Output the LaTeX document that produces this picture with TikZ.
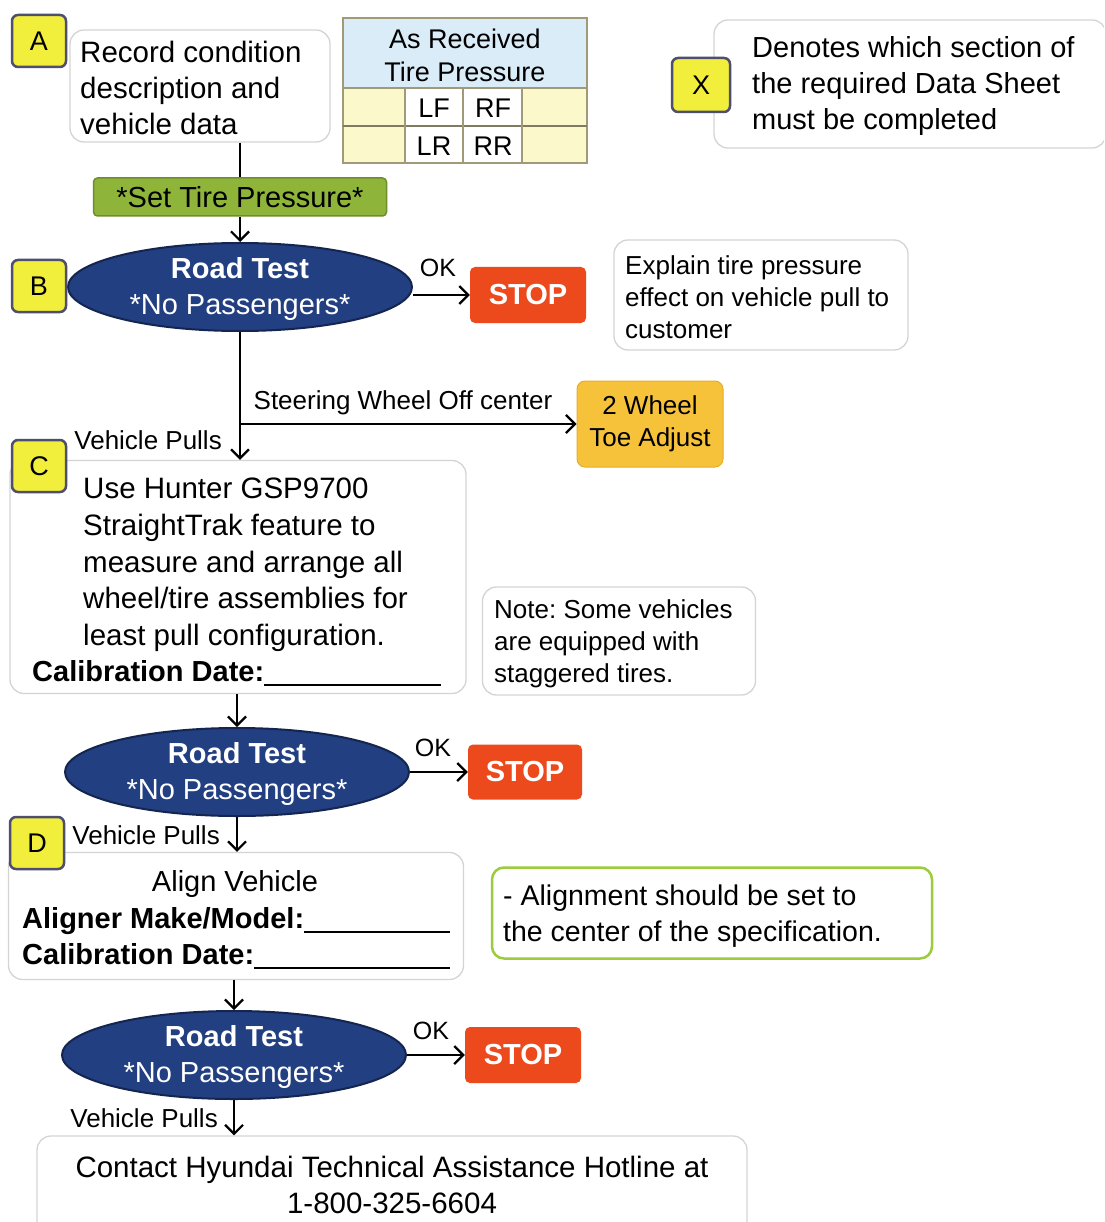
\documentclass[tikz,border=0pt]{standalone}
\usepackage{fontspec}
\setmainfont{Liberation Sans}
\frenchspacing
\usetikzlibrary{shapes.geometric,arrows.meta,calc}
\definecolor{lblfill}{HTML}{F2EE3C}
\definecolor{lbldraw}{HTML}{4E4E6E}
\definecolor{navy}{HTML}{223F82}
\definecolor{navydark}{HTML}{14254F}
\definecolor{stopred}{HTML}{EC4A1C}
\definecolor{setgreen}{HTML}{8FB43A}
\definecolor{setgreendark}{HTML}{6E8E2C}
\definecolor{toe}{HTML}{F5C23A}
\definecolor{toedark}{HTML}{E8AE2A}
\definecolor{hdrblue}{HTML}{D9ECF7}
\definecolor{cellyel}{HTML}{FBF8CC}
\definecolor{tabline}{HTML}{A09A78}
\definecolor{boxgray}{HTML}{D4D4D4}
\definecolor{notegreen}{HTML}{9CCC3C}
\tikzset{
  lbl/.style={draw=lbldraw, line width=2.5pt, fill=lblfill, rounded corners=6pt,
    minimum width=54pt, minimum height=52pt, inner sep=0pt, font=\fontsize{27}{30}\selectfont},
  gbox/.style={draw=boxgray, line width=1.3pt, fill=white, rounded corners=14pt, inner sep=0pt},
  txt/.style={inner sep=0pt, align=left},
  rt/.style={ellipse, draw=navydark, line width=2pt, fill=navy, minimum width=344pt, minimum height=88pt, inner sep=0pt},
  rttxt/.style={inner sep=0pt, align=center, text=white, font=\fontsize{29}{36}\selectfont},
  stopbox/.style={fill=stopred, rounded corners=5pt, minimum width=116pt, minimum height=56pt,
    inner sep=0pt, text=white, font=\bfseries\fontsize{29}{32}\selectfont},
  arr/.style={-{Straight Barb[length=9pt,width=18pt,line width=2.2pt]}, line width=2.2pt},
  ln/.style={line width=2.2pt},
  small/.style={inner sep=0pt, font=\fontsize{26}{30}\selectfont},
}
\begin{document}
\begin{tikzpicture}[x=1pt,y=-1pt]
\useasboundingbox (0,0) rectangle (1104,1222);
\clip (0,0) rectangle (1104,1222);
\fill[white] (0,0) rectangle (1104,1222);

% ---------- Section A ----------
\node[gbox, minimum width=260pt, minimum height=112pt] (boxA) at (200,86) {};
\node[txt, anchor=west, font=\fontsize{29.5}{36}\selectfont] (boxAt) at (80,88)
  {Record condition\\description and\\vehicle data};
\node[lbl] (lA) at (39,41) {A};

% table
\fill[hdrblue] (343,18) rectangle (587,88);
\fill[cellyel] (343,88) rectangle (405,163);
\fill[cellyel] (522,88) rectangle (587,163);
\draw[tabline, line width=1.2pt] (343,18) rectangle (587,163);
\draw[tabline, line width=1.2pt] (343,88) -- (587,88);
\draw[tabline!80!black, line width=1.6pt] (343,126) -- (587,126);
\draw[tabline, line width=1.2pt] (405,88) -- (405,163) (463,88) -- (463,163) (522,88) -- (522,163);
\node[inner sep=0pt, align=center, font=\fontsize{27}{33}\selectfont] (thdr) at (465,55) {As Received\\Tire Pressure};
\node[inner sep=0pt, font=\fontsize{27}{30}\selectfont] (tLF) at (434,108) {LF};
\node[inner sep=0pt, font=\fontsize{27}{30}\selectfont] (tRF) at (493,108) {RF};
\node[inner sep=0pt, font=\fontsize{27}{30}\selectfont] (tLR) at (434,146) {LR};
\node[inner sep=0pt, font=\fontsize{27}{30}\selectfont] (tRR) at (493,146) {RR};

% legend X
\node[gbox, minimum width=392pt, minimum height=128pt] (xnote) at (910,84) {};
\node[txt, anchor=west, font=\fontsize{29}{36}\selectfont] (xnotet) at (752,86)
  {Denotes which section of\\the required Data Sheet\\must be completed};
\node[lbl, minimum width=58pt, minimum height=54pt] (lX) at (701,85) {X};

% set tire pressure
\node[fill=setgreen, draw=setgreendark, line width=1.5pt, rounded corners=4pt,
  minimum width=293pt, minimum height=38pt, inner sep=0pt, font=\fontsize{29}{32}\selectfont]
  (stp) at (240,197) {*Set Tire Pressure*};
\draw[ln] (stp.north |- boxA.south) -- (stp.north);

% ---------- Section B ----------
\node[rt] (e1) at (240,287) {};
\node[rttxt] (e1t) at (240,289) {\textbf{Road Test}\\*No Passengers*};
\node[lbl] (lB) at (39,286) {B};
\draw[arr] (stp.south) -- (e1.north);
\node[stopbox] (s1) at (528,295) {STOP};
\draw[arr] (e1.east |- s1.west) -- (s1.west);
\node[small, font=\fontsize{25}{28}\selectfont] (ok1) at (438,268) {OK};

\node[gbox, minimum width=294pt, minimum height=110pt] (expl) at (761,295) {};
\node[txt, anchor=west, font=\fontsize{26}{32}\selectfont] (explt) at (625,297)
  {Explain tire pressure\\effect on vehicle pull to\\customer};

\node[fill=toe, draw=toedark, line width=1pt, rounded corners=8pt, minimum width=146pt, minimum height=86pt,
  inner sep=0pt, align=center, font=\fontsize{26}{32}\selectfont] (toe) at (650,424) {2 Wheel\\Toe Adjust};

% ---------- Section C ----------
\node[gbox, minimum width=456pt, minimum height=233pt] (boxC) at (238,577) {};
\node[txt, anchor=west, font=\fontsize{29.5}{36.7}\selectfont] (boxCt) at (83,565)
  {Use Hunter GSP9700\\StraightTrak feature to\\measure and arrange all\\wheel/tire assemblies for\\least pull configuration.};
\node[inner sep=0pt, anchor=base west, font=\bfseries\fontsize{29}{32}\selectfont] (calC) at (32,681)
  {Calibration Date:\rule[-5pt]{177pt}{1.6pt}};
\node[lbl] (lC) at (39,466) {C};

\coordinate (br) at (e1.south |- toe.west);
\draw[arr] (e1.south) -- (e1.south |- boxC.north);
\draw[arr] (br) -- (toe.west);
\node[small] (steer) at (403,403) {Steering Wheel Off center};
\node[small, anchor=east] (vp1) at (222,440) {Vehicle Pulls};

\node[gbox, minimum width=273pt, minimum height=108pt] (note) at (619,641) {};
\node[txt, anchor=west, font=\fontsize{26}{32}\selectfont] (notet) at (494,644)
  {Note: Some vehicles\\are equipped with\\staggered tires.};

\node[rt] (e2) at (237,772) {};
\node[rttxt] (e2t) at (237,774) {\textbf{Road Test}\\*No Passengers*};
\draw[arr] (e2.north |- boxC.south) -- (e2.north);
\node[stopbox, minimum width=114pt, minimum height=55pt] (s2) at (525,772) {STOP};
\draw[arr] (e2.east) -- (s2.west);
\node[small, font=\fontsize{25}{28}\selectfont] (ok2) at (433,748) {OK};

% ---------- Section D ----------
\node[gbox, minimum width=455pt, minimum height=127pt] (boxD) at (236,916) {};
\node[inner sep=0pt, font=\fontsize{29}{32}\selectfont] (alignt) at (235,884) {Align Vehicle};
\node[inner sep=0pt, anchor=base west, font=\bfseries\fontsize{29}{32}\selectfont] (mm) at (22,928)
  {Aligner Make/Model:\rule[-5pt]{146pt}{1.6pt}};
\node[inner sep=0pt, anchor=base west, font=\bfseries\fontsize{29}{32}\selectfont] (calD) at (22,964)
  {Calibration Date:\rule[-5pt]{196pt}{1.6pt}};
\node[lbl] (lD) at (37,843) {D};
\draw[arr] (e2.south) -- (e2.south |- boxD.north);
\node[small, anchor=east] (vp2) at (220,835) {Vehicle Pulls};

\node[draw=notegreen, line width=2.5pt, fill=white, rounded corners=12pt, minimum width=440pt, minimum height=91pt,
  inner sep=0pt] (anote) at (712,913) {};
\node[txt, anchor=west, font=\fontsize{28.5}{36}\selectfont] (anotet) at (503,916)
  {- Alignment should be set to\\the center of the specification.};

\node[rt] (e3) at (234,1055) {};
\node[rttxt] (e3t) at (234,1057) {\textbf{Road Test}\\*No Passengers*};
\draw[arr] (e3.north |- boxD.south) -- (e3.north);
\node[stopbox] (s3) at (523,1055) {STOP};
\draw[arr] (e3.east) -- (s3.west);
\node[small, font=\fontsize{25}{28}\selectfont] (ok3) at (431,1031) {OK};

% ---------- Contact ----------
\node[gbox, minimum width=710pt, minimum height=100pt] (contact) at (392,1186) {};
\node[inner sep=0pt, align=center, font=\fontsize{29.5}{36}\selectfont] (contactt) at (392,1185)
  {Contact Hyundai Technical Assistance Hotline at\\1-800-325-6604};
\draw[arr] (e3.south) -- (e3.south |- contact.north);
\node[small, anchor=east] (vp3) at (218,1118) {Vehicle Pulls};
\end{tikzpicture}
\end{document}
